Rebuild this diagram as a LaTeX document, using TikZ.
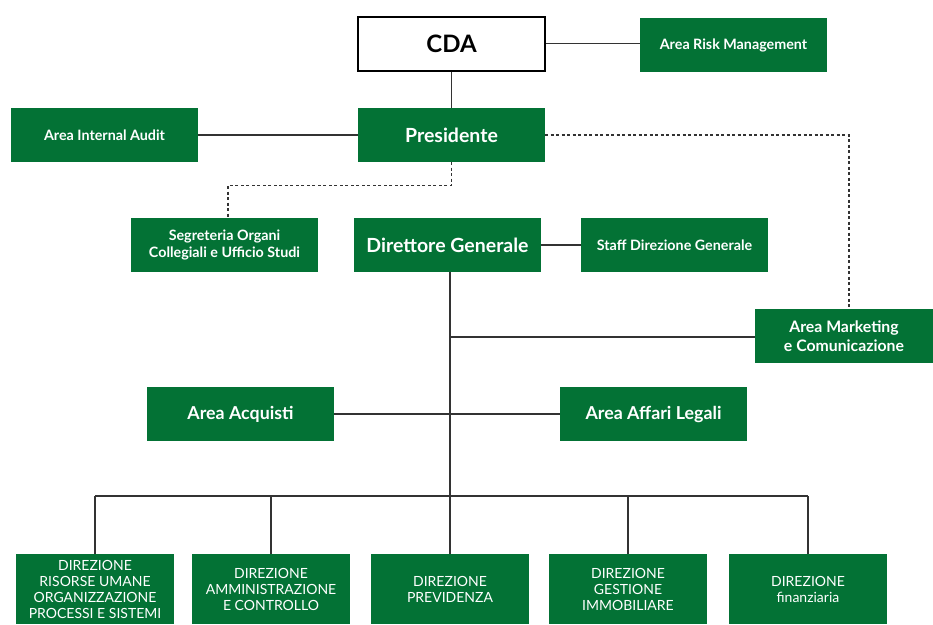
\documentclass[tikz,border=0pt]{standalone}
\usepackage{fontspec}
\setmainfont{Lato}
\usetikzlibrary{positioning}
\definecolor{OrgGreen}{HTML}{037235}
\definecolor{OrgLine}{HTML}{333333}
\tikzset{
  unitbox/.style={fill=OrgGreen, text=white, minimum width=187pt, minimum height=54pt,
    inner sep=2pt, align=center, font=\bfseries\fontsize{14.3}{17}\selectfont},
  bigbox/.style={unitbox, font=\bfseries\fontsize{19.5}{23}\selectfont},
  midbox/.style={unitbox, font=\bfseries\fontsize{15.8}{19}\selectfont},
  dirbox/.style={unitbox, minimum width=158pt, minimum height=70pt,
    font=\fontsize{14}{16}\selectfont},
  link/.style={draw=OrgLine, line width=1.4pt},
  dotlink/.style={link, dashed, dash pattern=on 3pt off 2.5pt}
}

\begin{document}
\begin{tikzpicture}[x=1pt,y=-1pt]
  \useasboundingbox (0,0) rectangle (933,624);

  % vertice
  \node[draw=black, line width=2pt, fill=white, minimum width=187pt, minimum height=54pt,
    font=\bfseries\fontsize{24}{28}\selectfont] (cda) at (451.5,43.5) {CDA};
  \node[unitbox] (risk) at (733.5,45) {Area Risk Management};
  \node[bigbox] (pres) at (451.5,135) {Presidente};
  \node[unitbox] (audit) at (104.5,135) {Area Internal Audit};
  \node[unitbox] (segr) at (224.5,245) {Segreteria Organi\\Collegiali e Ufficio Studi};
  \node[bigbox] (dg) at (447.5,245) {Direttore Generale};
  \node[unitbox] (staff) at (674.5,245) {Staff Direzione Generale};
  \node[midbox, minimum width=178pt] (mkt) at (844,336) {Area Marketing\\e Comunicazione};
  \node[bigbox, font=\bfseries\fontsize{17.8}{21}\selectfont] (acq) at (240.5,414) {Area Acquisti};
  \node[bigbox, font=\bfseries\fontsize{17.8}{21}\selectfont] (legal) at (653.5,414) {Area Affari Legali};

  % direzioni
  \node[dirbox] (risorse) at (95,589) {DIREZIONE\\RISORSE UMANE\\ORGANIZZAZIONE\\PROCESSI E SISTEMI};
  \node[dirbox] (amm) at (271,589) {DIREZIONE\\AMMINISTRAZIONE\\E CONTROLLO};
  \node[dirbox] (prev) at (450,589) {DIREZIONE\\PREVIDENZA};
  \node[dirbox] (immob) at (628,589) {DIREZIONE\\GESTIONE\\IMMOBILIARE};
  \node[dirbox] (fin) at (808,589) {DIREZIONE\\finanziaria};

  \coordinate (bus) at (450,496);
  \coordinate (spine) at (450,337);

  \draw[link] (cda.east) -- (cda.east -| risk.west);
  \draw[link] (cda.south) -- (pres.north);
  \draw[link] (audit.east) -- (audit.east -| pres.west);
  \draw[link] (dg.east) -- (staff.west);
  \draw[link] (dg.south -| bus) -- (bus);
  \draw[link] (spine) -- (spine -| mkt.west);
  \draw[link] (acq.east) -- (legal.west);
  \draw[link] (bus -| risorse.north) -- (bus -| fin.north);
  \foreach \d in {risorse,amm,prev,immob,fin}
    \draw[link] (bus -| \d.north) -- (\d.north);

  \draw[dotlink] (pres.south) -- ++(0,23) -| ([xshift=3.5pt]segr.north);
  \draw[dotlink] (pres.east) -| ([xshift=5pt]mkt.north);
\end{tikzpicture}
\end{document}
